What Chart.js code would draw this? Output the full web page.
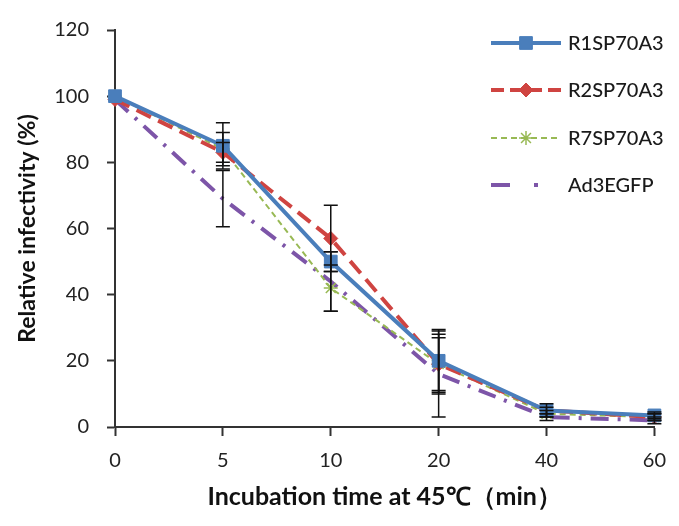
<!DOCTYPE html>
<html>
<head>
  <title>Relative infectivity</title>
  <script src="https://cdn.jsdelivr.net/npm/chart.js@4.4.0/dist/chart.umd.min.js"></script>
  <style type="text/css">
    body { margin: 0; background: #fff; }
    #chart-container { width: 679px; height: 526px; }
  </style>
</head>
<body>
<div id="chart-container">
  <canvas id="mycanvas"></canvas>
</div>
<script>
// incubation times (min) on the category axis
var times = ['0', '5', '10', '20', '40', '60'];
var yTicks = [0, 20, 40, 60, 80, 100, 120];

var r1 = [100, 85, 50, 20, 5, 3.5];
var r1Err = [0, 7, 3, 9.5, 2, 1];
var r2 = [99, 83, 57, 19, 5, 3];
var r2Err = [0, 3, 10, 9, 1, 1];
var r7 = [100, 84, 42, 19, 4, 3];
var r7Err = [0, 5, 7, 8, 1, 1];
var ad3 = [99, 69, 44, 16, 3, 2];
var ad3Err = [0, 8.5, 9, 13, 1, 1];

var labels = ['R1SP70A3', 'R2SP70A3', 'R7SP70A3', 'Ad3EGFP'];

var tickFont = { family: 'Lato', size: 20 };

// draws the vertical error bars with caps
var errorBars = {
  id: 'errorBars',
  afterDatasetsDraw: function(chart) {
    var ctx = chart.ctx, xs = chart.scales.x, ys = chart.scales.y;
    ctx.save();
    ctx.strokeStyle = '#111';
    ctx.lineWidth = 1.5;
    chart.data.datasets.forEach(function(ds) {
      ds.errors.forEach(function(e, j) {
        if (!e) return;
        var px = xs.getPixelForValue(j);
        var top = ys.getPixelForValue(ds.data[j] + e);
        var bot = ys.getPixelForValue(ds.data[j] - e);
        ctx.beginPath();
        ctx.moveTo(px, top); ctx.lineTo(px, bot);
        ctx.moveTo(px - 7, top); ctx.lineTo(px + 7, top);
        ctx.moveTo(px - 7, bot); ctx.lineTo(px + 7, bot);
        ctx.stroke();
      });
    });
    ctx.restore();
  }
};

// legend in the top right, line sample with marker in the middle
var sideLegend = {
  id: 'sideLegend',
  afterDraw: function(chart) {
    var ctx = chart.ctx;
    var rows = [43, 90, 138, 185];
    chart.data.datasets.forEach(function(ds, i) {
      var y = rows[i];
      ctx.save();
      ctx.strokeStyle = ds.borderColor;
      ctx.lineWidth = ds.borderWidth;
      ctx.setLineDash(ds.legendDash || ds.borderDash || []);
      ctx.beginPath();
      ctx.moveTo(491, y); ctx.lineTo(561, y);
      ctx.stroke();
      ctx.setLineDash([]);
      if (ds.pointRadius > 0) {
        ctx.fillStyle = ds.pointBackgroundColor;
        ctx.strokeStyle = ds.pointBorderColor;
        ctx.lineWidth = ds.pointBorderWidth;
        Chart.helpers.drawPoint(ctx, {
          pointStyle: ds.pointStyle, radius: ds.pointRadius,
          rotation: 0, borderWidth: ds.pointBorderWidth
        }, 526, y);
      }
      ctx.fillStyle = '#1a1a1a';
      ctx.font = '500 20px Lato';
      ctx.textBaseline = 'middle';
      ctx.fillText(ds.label, 568, y + 1);
      ctx.restore();
    });
  }
};

var chartdata = {
  labels: times,
  datasets: [
    {
      label: labels[0], data: r1, errors: r1Err,
      borderColor: '#4A7EBB', borderWidth: 4,
      pointStyle: 'rect', pointRadius: 9,
      pointBackgroundColor: '#4A7EBB', pointBorderColor: '#4A7EBB', pointBorderWidth: 1
    },
    {
      label: labels[1], data: r2, errors: r2Err,
      borderColor: '#CF4441', borderWidth: 4, borderDash: [16, 8],
      legendDash: [13, 6],
      pointStyle: 'rectRot', pointRadius: 7,
      pointBackgroundColor: '#CF4441', pointBorderColor: '#CF4441', pointBorderWidth: 1
    },
    {
      label: labels[2], data: r7, errors: r7Err,
      borderColor: '#98B954', borderWidth: 2, borderDash: [6, 4],
      pointStyle: 'star', pointRadius: 7,
      pointBackgroundColor: '#98B954', pointBorderColor: '#98B954', pointBorderWidth: 1.5
    },
    {
      label: labels[3], data: ad3, errors: ad3Err,
      borderColor: '#7D55A8', borderWidth: 4, borderDash: [18, 9, 3, 9],
      legendDash: [19, 24, 4, 40],
      pointRadius: 0,
      pointBackgroundColor: '#7D55A8', pointBorderColor: '#7D55A8', pointBorderWidth: 1
    }
  ]
};
chartdata.datasets.forEach(function(ds) {
  ds.tension = 0;
  ds.fill = false;
  ds.clip = false;
  ds.pointHoverRadius = ds.pointRadius;
});

var ctx = document.getElementById('mycanvas');
var lineGraph = new Chart(ctx, {
  type: 'line',
  data: chartdata,
  plugins: [errorBars, sideLegend],
  options: {
    responsive: true,
    maintainAspectRatio: false,
    animation: false,
    layout: { padding: { left: 0, right: 19, top: 21, bottom: 0 } },
    plugins: { legend: { display: false }, tooltip: { enabled: false } },
    scales: {
      x: {
        type: 'category',
        offset: false,
        grid: { drawOnChartArea: false, tickLength: 9, tickColor: '#333', tickWidth: 2 },
        border: { color: '#333', width: 2 },
        ticks: { font: tickFont, color: '#222', padding: 13, maxRotation: 0 },
        title: {
          display: true, text: 'Incubation time at 45\u2103\uff08min\uff09',
          font: { family: 'Lato', size: 25, weight: 'bold' }, color: '#111',
          padding: { top: 0, bottom: 14 }
        },
        afterFit: function(scale) { scale.height = 99; }
      },
      y: {
        min: 0, max: 120,
        afterBuildTicks: function(scale) {
          scale.ticks = yTicks.map(function(v) { return { value: v }; });
        },
        grid: { drawOnChartArea: false, tickLength: 8, tickColor: '#333', tickWidth: 2 },
        border: { color: '#333', width: 2 },
        ticks: { font: tickFont, color: '#222', padding: 18 },
        title: {
          display: true, text: 'Relative infectivity (%)',
          font: { family: 'Lato', size: 23, weight: 'bold' }, color: '#111',
          padding: { top: 14, bottom: 0 }
        },
        afterFit: function(scale) { scale.width = 115; }
      }
    }
  }
});
</script>
</body>
</html>
